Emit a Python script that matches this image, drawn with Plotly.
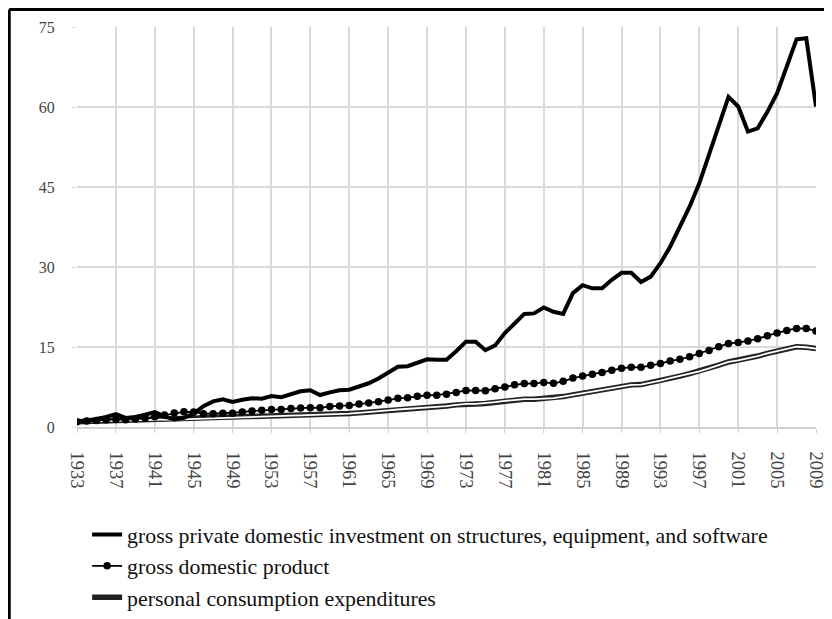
import plotly.graph_objects as go

years = list(range(1933, 2010))

investment = [1.0, 1.2, 1.5, 1.9, 2.4, 1.7, 1.9, 2.3, 2.8, 2.0,
              1.4, 1.7, 2.5, 3.9, 4.8, 5.2, 4.7, 5.1, 5.4, 5.3,
              5.8, 5.6, 6.2, 6.7, 6.9, 6.0, 6.5, 6.9, 7.0, 7.6,
              8.2, 9.1, 10.2, 11.3, 11.4, 12.0, 12.7, 12.6, 12.6, 14.2,
              16.0, 16.0, 14.4, 15.3, 17.6, 19.4, 21.2, 21.3, 22.4, 21.6,
              21.2, 25.1, 26.6, 26.0, 26.0, 27.6, 28.9, 28.9, 27.2, 28.2,
              30.7, 33.8, 37.6, 41.3, 45.7, 51.0, 56.5, 61.9, 60.1, 55.4,
              56.0, 59.1, 62.6, 67.6, 72.7, 72.9, 60.1]

gdp = [1.00, 1.11, 1.21, 1.37, 1.43, 1.38, 1.50, 1.63, 1.91, 2.26,
       2.63, 2.84, 2.81, 2.50, 2.48, 2.59, 2.57, 2.80, 3.02, 3.13,
       3.28, 3.26, 3.49, 3.56, 3.63, 3.60, 3.86, 3.95, 4.04, 4.29,
       4.48, 4.74, 5.04, 5.37, 5.50, 5.77, 5.95, 5.96, 6.16, 6.49,
       6.86, 6.83, 6.81, 7.18, 7.51, 7.93, 8.17, 8.15, 8.36, 8.19,
       8.56, 9.18, 9.56, 9.89, 10.21, 10.63, 11.01, 11.21, 11.19, 11.57,
       11.90, 12.38, 12.69, 13.17, 13.76, 14.35, 15.05, 15.67, 15.84, 16.13,
       16.53, 17.12, 17.64, 18.11, 18.47, 18.47, 17.98]

pce = [1.00, 1.05, 1.10, 1.20, 1.25, 1.22, 1.28, 1.33, 1.40, 1.38,
       1.40, 1.45, 1.52, 1.62, 1.64, 1.67, 1.70, 1.80, 1.82, 1.87,
       1.95, 1.98, 2.12, 2.18, 2.24, 2.26, 2.40, 2.46, 2.52, 2.65,
       2.77, 2.93, 3.10, 3.28, 3.38, 3.56, 3.70, 3.78, 3.92, 4.15,
       4.35, 4.32, 4.42, 4.66, 4.88, 5.10, 5.22, 5.22, 5.32, 5.40,
       5.70, 6.02, 6.35, 6.70, 7.00, 7.35, 7.65, 7.90, 7.95, 8.30,
       8.70, 9.15, 9.55, 10.00, 10.45, 11.00, 11.60, 12.20, 12.50, 12.85,
       13.30, 13.80, 14.25, 14.70, 15.05, 14.95, 14.70]

names = ["gross private domestic investment on structures, equipment, and software",
         "gross domestic product",
         "personal consumption expenditures"]

y_ticks = [0, 15, 30, 45, 60, 75]
x_ticks = list(range(1933, 2010, 4))

serif = "Liberation Serif"

fig = go.Figure()

# personal consumption expenditures: double line (dark outer, white inner)
fig.add_trace(go.Scatter(x=years, y=pce, mode="lines", name=names[2],
                         line=dict(color="#222222", width=5.5),
                         legendgroup="c", legendrank=3))
fig.add_trace(go.Scatter(x=years, y=pce, mode="lines", name=names[2],
                         line=dict(color="white", width=1.8),
                         legendgroup="c", showlegend=False, hoverinfo="skip"))
# gross domestic product: line with dots
fig.add_trace(go.Scatter(x=years, y=gdp, mode="lines+markers", name=names[1],
                         line=dict(color="black", width=1.8),
                         marker=dict(color="black", size=7.5, symbol="circle"),
                         legendgroup="b", legendrank=2))
# investment: thick black line
fig.add_trace(go.Scatter(x=years, y=investment, mode="lines", name=names[0],
                         line=dict(color="black", width=4),
                         legendgroup="a", legendrank=1))

# page body adds an 8px offset, so the figure is 824x611 with margins shifted
fig.update_layout(
    width=824, height=611,
    margin=dict(l=69, r=16, t=19, b=192, autoexpand=False),
    paper_bgcolor="white", plot_bgcolor="white",
    font=dict(family=serif, color="#444"),
    showlegend=True,
    legend=dict(x=0.0137, y=-0.217, xanchor="left", yanchor="top",
                orientation="v", font=dict(family=serif, size=21.8, color="#111"),
                tracegroupgap=0, bgcolor="rgba(0,0,0,0)"),
    shapes=[
        dict(type="line", xref="paper", yref="paper", x0=-0.0917, x1=1.1,
             y0=1.0438, y1=1.0438, line=dict(color="black", width=3)),
        dict(type="line", xref="paper", yref="paper", x0=-0.0917, x1=-0.0917,
             y0=1.0438, y1=-0.5, line=dict(color="black", width=3)),
    ],
)

fig.update_xaxes(range=[1933, 2009], tickmode="array", tickvals=x_ticks,
                 ticktext=[str(v) for v in x_ticks], tickangle=90,
                 showgrid=True, gridcolor="#d9d9d9", gridwidth=1.5,
                 showline=True, linecolor="#d0d0d0", linewidth=1.5,
                 ticks="outside", ticklen=4, tickcolor="#d0d0d0",
                 tickfont=dict(family=serif, size=18.5, color="#444"),
                 ticklabelstandoff=15, zeroline=False, automargin=False)
fig.update_yaxes(range=[0, 75], tickmode="array", tickvals=y_ticks,
                 showgrid=True, gridcolor="#d9d9d9", gridwidth=1.5,
                 showline=False, ticks="outside", ticklen=4, tickcolor="#d9d9d9",
                 tickfont=dict(family=serif, size=16, color="#444"),
                 ticklabelstandoff=14, zeroline=False, automargin=False)

fig.write_html("out.html")
